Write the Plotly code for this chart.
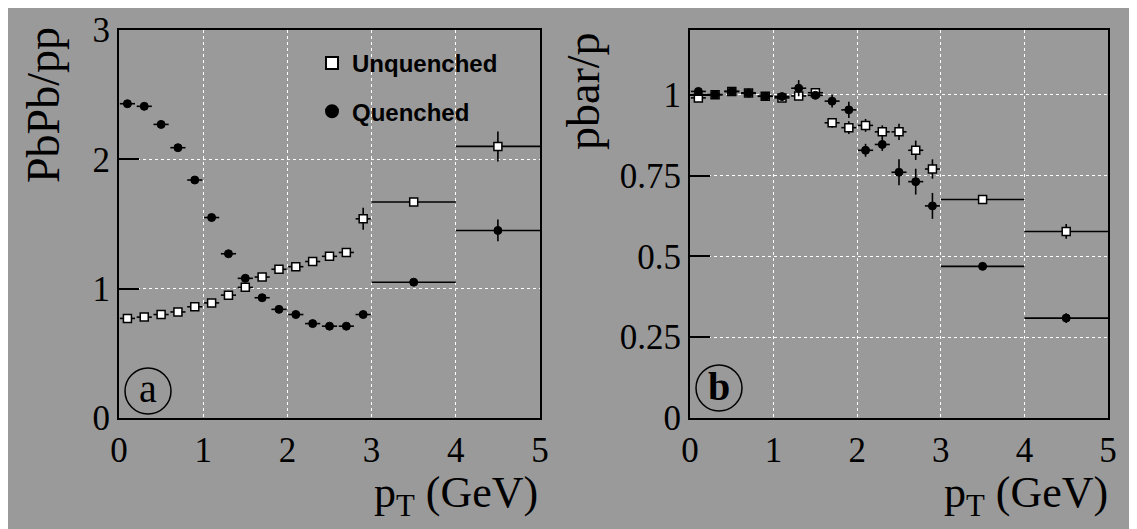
import plotly.graph_objects as go

# ---------------- data ----------------
pt = [0.1, 0.3, 0.5, 0.7, 0.9, 1.1, 1.3, 1.5, 1.7, 1.9, 2.1, 2.3, 2.5, 2.7, 2.9, 3.5, 4.5]
pt_halfwidth = [0.09] * 15 + [0.5, 0.5]

# panel (a) PbPb/pp
a_unquenched = [0.77, 0.78, 0.80, 0.82, 0.86, 0.89, 0.95, 1.01, 1.09, 1.15, 1.17, 1.21, 1.25, 1.28, 1.54, 1.67, 2.10]
a_unquenched_err = [0.01] * 14 + [0.085, 0.02, 0.116]
a_quenched = [2.43, 2.41, 2.27, 2.09, 1.84, 1.55, 1.27, 1.08, 0.93, 0.84, 0.80, 0.73, 0.71, 0.71, 0.80, 1.05, 1.45]
a_quenched_err = [0.02] * 15 + [0.02, 0.084]

# panel (b) pbar/p
b_unquenched = [0.99, 1.00, 1.01, 1.005, 0.995, 0.99, 0.996, 1.006, 0.913, 0.898, 0.905, 0.885, 0.885, 0.828, 0.77, 0.676, 0.577]
b_unquenched_err = [0.01] * 8 + [0.015, 0.02, 0.02, 0.02, 0.025, 0.03, 0.03, 0.01, 0.023]
b_quenched = [1.01, 1.00, 1.01, 1.005, 0.995, 0.994, 1.02, 0.998, 0.98, 0.953, 0.828, 0.846, 0.76, 0.731, 0.656, 0.469, 0.309]
b_quenched_err = [0.01] * 6 + [0.025, 0.01, 0.02, 0.025, 0.02, 0.02, 0.04, 0.04, 0.04, 0.01, 0.015]

a_yticks = [0, 1, 2, 3]
b_yticks = [0, 0.25, 0.5, 0.75, 1]
b_yticktext = ["0", "0.25", "0.5", "0.75", "1"]
x_ticks = [0, 1, 2, 3, 4, 5]

# ---------------- layout helpers ----------------
OFF = 8  # page body margin
W, H = 1137 - OFF, 529 - OFF
BG = "#9a9a9a"
SERIF = "Liberation Serif, Times New Roman, serif"
SANS = "Liberation Sans, Arial, sans-serif"


def px(x):
    return (x - OFF) / W


def py(y):
    return 1 - (y - OFF) / H


fig = go.Figure()

err_style = dict(type="data", thickness=1.6, width=0, color="black")


def add_series(xa, ya, y, yerr, name, filled, showlegend, group):
    if filled:
        marker = dict(symbol="circle", size=8, color="black", line=dict(color="black", width=1))
    else:
        marker = dict(symbol="square", size=8, color="white", line=dict(color="black", width=1.5))
    fig.add_trace(go.Scatter(
        x=pt, y=y, mode="markers", name=name, xaxis=xa, yaxis=ya,
        marker=marker, showlegend=showlegend, legendgroup=group,
        error_x=dict(array=pt_halfwidth, **err_style),
        error_y=dict(array=yerr, **err_style),
    ))


add_series("x", "y", a_unquenched, a_unquenched_err, "Unquenched", False, True, "u")
add_series("x", "y", a_quenched, a_quenched_err, "Quenched", True, True, "q")
add_series("x2", "y2", b_unquenched, b_unquenched_err, "Unquenched", False, False, "u")
add_series("x2", "y2", b_quenched, b_quenched_err, "Quenched", True, False, "q")

ydom = [py(418), py(30)]
axis_common = dict(
    showline=True, linecolor="black", linewidth=2, mirror=True,
    showgrid=True, gridcolor="white", griddash="dot", gridwidth=1,
    zeroline=False, automargin=False,
    tickfont=dict(family=SERIF, size=35, color="black"),
)

fig.update_layout(
    width=W, height=H,
    margin=dict(l=0, r=0, t=0, b=0, autoexpand=False),
    paper_bgcolor=BG, plot_bgcolor=BG,
    xaxis=dict(domain=[px(119), px(540)], range=[0, 5], tickvals=x_ticks,
               anchor="y", ticks="", **axis_common),
    yaxis=dict(domain=ydom, range=[0, 3], tickvals=a_yticks, anchor="x",
               ticks="inside", ticklen=20, tickwidth=2, tickcolor="black", **axis_common),
    xaxis2=dict(domain=[px(690), px(1108)], range=[0, 5], tickvals=x_ticks,
                anchor="y2", ticks="", **axis_common),
    yaxis2=dict(domain=ydom, range=[0, 1.2], tickvals=b_yticks, ticktext=b_yticktext,
                anchor="x2", ticks="inside", ticklen=20, tickwidth=2, tickcolor="black",
                **axis_common),
    legend=dict(
        x=px(312), y=py(41), xanchor="left", yanchor="top",
        bgcolor="rgba(0,0,0,0)", borderwidth=0,
        font=dict(family=SANS, size=24, color="black", weight="bold"),
        tracegroupgap=14, itemsizing="constant",
    ),
    showlegend=True,
)

annotations = [
    dict(text="PbPb/pp", x=px(43), y=py(105), textangle=-90,
         font=dict(family=SERIF, size=46, color="black")),
    dict(text="pbar/p", x=px(584), y=py(91), textangle=-90,
         font=dict(family=SERIF, size=46, color="black")),
    dict(text="p<sub>T</sub> (GeV)", x=px(456), y=py(495),
         font=dict(family=SERIF, size=44, color="black")),
    dict(text="p<sub>T</sub> (GeV)", x=px(1026), y=py(495),
         font=dict(family=SERIF, size=44, color="black")),
    dict(text="a", x=px(148), y=py(388),
         font=dict(family=SERIF, size=40, color="black")),
    dict(text="<b>b</b>", x=px(719), y=py(386),
         font=dict(family=SERIF, size=40, color="black")),
]
for a in annotations:
    a.update(xref="paper", yref="paper", showarrow=False,
             xanchor="center", yanchor="middle", borderpad=0)
fig.update_layout(annotations=annotations)

for cx, cy in [(148, 391), (719, 388)]:
    fig.add_shape(type="circle", xref="paper", yref="paper",
                  x0=px(cx - 23), x1=px(cx + 23), y0=py(cy + 23), y1=py(cy - 23),
                  line=dict(color="black", width=1.5))

fig.write_html("out.html")
